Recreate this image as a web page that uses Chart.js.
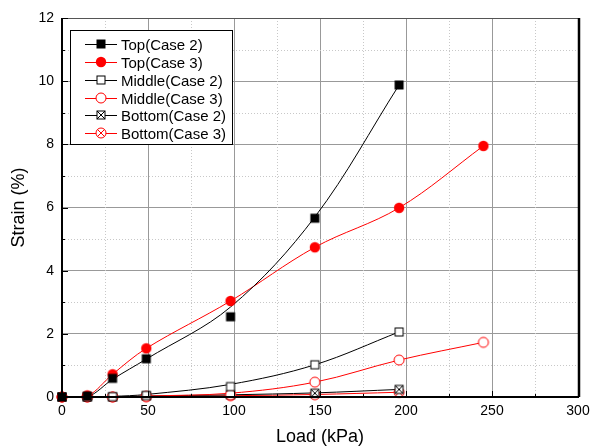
<!DOCTYPE html>
<html>
<head>
<meta charset="utf-8">
<script src="https://cdn.jsdelivr.net/npm/chart.js@4.4.1/dist/chart.umd.min.js"></script>
<style>
  html, body { margin: 0; padding: 0; background: #fff; }
  #wrap { width: 592px; height: 448px; position: relative; }
</style>
</head>
<body>
<div id="wrap"><canvas id="c"></canvas></div>
<script>
// ---- data ----
const loads = [0, 14.7, 29.4, 49, 98, 147, 196, 245];
// measured points
const topCase2 = [0, 0.03, 0.59, 1.21, 2.54, 5.66, 9.88];
const topCase3 = [0, 0.05, 0.72, 1.54, 3.04, 4.74, 5.99, 7.95];
const midCase2 = [0, 0, 0.01, 0.05, 0.33, 1.02, 2.06];
const midCase3 = [0, 0, 0, 0.02, 0.07, 0.47, 1.17, 1.73];
const botCase2 = [0, 0, 0, 0.03, 0.07, 0.12, 0.24];
const botCase3 = [0, 0, 0, 0.01, 0.04, 0.07, 0.15];
// fitted curves as they cross each load
const topCase2Fit = [0, 0, 0.56, 1.2, 2.85, 5.7, 9.88];
const topCase3Fit = [0, 0.03, 0.72, 1.54, 3.04, 4.74, 5.99, 7.95];
const midCase2Fit = [0, 0, 0.02, 0.08, 0.4, 1.02, 2.06];
const midCase3Fit = [0, 0, 0, 0.03, 0.12, 0.47, 1.17, 1.73];
const botCase2Fit = [0, 0, 0, 0.03, 0.07, 0.13, 0.24];
const botCase3Fit = [0, 0, 0, 0.01, 0.04, 0.08, 0.15];
const xTicks = [0, 50, 100, 150, 200, 250, 300];
const yTicks = [0, 2, 4, 6, 8, 10, 12];

const FONT = "'Liberation Sans', Arial, sans-serif";
const RED = "#ff0000";

// marker images
function marker(kind, color) {
  const s = 14;
  const cv = document.createElement("canvas");
  cv.width = s; cv.height = s;
  const g = cv.getContext("2d");
  g.strokeStyle = color; g.fillStyle = color; g.lineWidth = 1;
  const c = s / 2;
  if (kind === "sqFill") {
    g.fillRect(c - 4.5, c - 4.5, 9, 9);
  } else if (kind === "cirFill") {
    g.beginPath(); g.arc(c, c, 5.2, 0, Math.PI * 2); g.fill();
  } else if (kind === "sq") {
    g.fillStyle = "#fff";
    g.fillRect(c - 4, c - 4, 8, 8);
    g.strokeRect(c - 4, c - 4, 8, 8);
  } else if (kind === "cir") {
    g.fillStyle = "#fff";
    g.beginPath(); g.arc(c, c, 5, 0, Math.PI * 2); g.fill(); g.stroke();
  } else if (kind === "sqX") {
    g.fillStyle = "#fff";
    g.fillRect(c - 4, c - 4, 8, 8);
    g.strokeRect(c - 4, c - 4, 8, 8);
    g.beginPath();
    g.moveTo(c - 4, c - 4); g.lineTo(c + 4, c + 4);
    g.moveTo(c + 4, c - 4); g.lineTo(c - 4, c + 4);
    g.stroke();
  } else if (kind === "cirX") {
    g.fillStyle = "#fff";
    g.beginPath(); g.arc(c, c, 5, 0, Math.PI * 2); g.fill(); g.stroke();
    const d = 3.5;
    g.beginPath();
    g.moveTo(c - d, c - d); g.lineTo(c + d, c + d);
    g.moveTo(c + d, c - d); g.lineTo(c - d, c + d);
    g.stroke();
  }
  return cv;
}

function pts(arr) {
  return arr.map((v, i) => ({ x: loads[i], y: v }));
}

function markers(label, arr, color, img) {
  return {
    label: label,
    data: pts(arr),
    borderColor: color,
    backgroundColor: color,
    pointStyle: img,
    pointRadius: 6,
    pointHoverRadius: 6,
    showLine: false,
    clip: false,
    order: 0,
    isMarker: true
  };
}

function curve(arr, color) {
  return {
    data: pts(arr),
    borderColor: color,
    borderWidth: 1,
    pointRadius: 0,
    showLine: true,
    tension: 0.35,
    order: 1
  };
}

const datasets = [
  markers("Top(Case 2)", topCase2, "#000", marker("sqFill", "#000")),
  markers("Top(Case 3)", topCase3, RED, marker("cirFill", RED)),
  markers("Middle(Case 2)", midCase2, "#000", marker("sq", "#000")),
  markers("Middle(Case 3)", midCase3, RED, marker("cir", RED)),
  markers("Bottom(Case 2)", botCase2, "#000", marker("sqX", "#000")),
  markers("Bottom(Case 3)", botCase3, RED, marker("cirX", RED)),
  curve(topCase2Fit, "#000"),
  curve(topCase3Fit, RED),
  curve(midCase2Fit, "#000"),
  curve(midCase3Fit, RED),
  curve(botCase2Fit, "#000"),
  curve(botCase3Fit, RED)
];

// minor grid, frame, inward ticks, legend
const framePlugin = {
  id: "frame",
  beforeDatasetsDraw(chart) {
    const { ctx, chartArea: a, scales } = chart;
    ctx.save();
    ctx.strokeStyle = "#c8c8c8";
    ctx.lineWidth = 1;
    ctx.setLineDash([1, 2]);
    for (let v = 25; v < 300; v += 50) {
      const x = Math.round(scales.x.getPixelForValue(v)) + 0.5;
      ctx.beginPath(); ctx.moveTo(x, a.top); ctx.lineTo(x, a.bottom); ctx.stroke();
    }
    for (let v = 1; v < 12; v += 2) {
      const y = Math.round(scales.y.getPixelForValue(v)) + 0.5;
      ctx.beginPath(); ctx.moveTo(a.left, y); ctx.lineTo(a.right, y); ctx.stroke();
    }
    ctx.restore();
  },
  afterDraw(chart) {
    const { ctx, chartArea: a, scales } = chart;
    ctx.save();
    ctx.strokeStyle = "#555";
    ctx.lineWidth = 1;
    ctx.beginPath(); ctx.moveTo(a.left, a.top + 0.5); ctx.lineTo(a.right, a.top + 0.5); ctx.stroke();
    ctx.strokeStyle = "#000";
    ctx.lineWidth = 2;
    ctx.beginPath();
    ctx.moveTo(a.left, a.top); ctx.lineTo(a.left, a.bottom); ctx.lineTo(a.right + 1, a.bottom);
    ctx.stroke();
    ctx.lineWidth = 2.5;
    ctx.beginPath(); ctx.moveTo(a.right + 1, a.top); ctx.lineTo(a.right + 1, a.bottom); ctx.stroke();
    ctx.lineWidth = 1;
    for (let v = 0; v <= 300; v += 25) {
      const x = Math.round(scales.x.getPixelForValue(v)) + 0.5;
      const len = v % 50 === 0 ? 6 : 3;
      ctx.beginPath(); ctx.moveTo(x, a.bottom); ctx.lineTo(x, a.bottom - len); ctx.stroke();
    }
    for (let v = 0; v <= 12; v += 1) {
      const y = Math.round(scales.y.getPixelForValue(v)) + 0.5;
      const len = v % 2 === 0 ? 6 : 3;
      ctx.beginPath(); ctx.moveTo(a.left, y); ctx.lineTo(a.left + len, y); ctx.stroke();
    }
    // legend box
    const lx = 70, ly = 30, lw = 162, lh = 114;
    ctx.fillStyle = "#fff";
    ctx.fillRect(lx, ly, lw, lh);
    ctx.strokeStyle = "#000";
    ctx.lineWidth = 1;
    ctx.strokeRect(lx + 0.5, ly + 0.5, lw, lh);
    ctx.font = "15px " + FONT;
    ctx.textBaseline = "middle";
    ctx.textAlign = "left";
    chart.data.datasets.filter(d => d.isMarker).forEach((d, i) => {
      const y = Math.round(44 + i * 17.85) + 0.5;
      ctx.strokeStyle = d.borderColor;
      ctx.beginPath(); ctx.moveTo(85, y); ctx.lineTo(117, y); ctx.stroke();
      const img = d.pointStyle;
      ctx.drawImage(img, 101 - img.width / 2, y - 0.5 - img.height / 2);
      ctx.fillStyle = "#000";
      ctx.fillText(d.label, 121, y + 1);
    });
    ctx.restore();
  }
};

new Chart(document.getElementById("c"), {
  type: "scatter",
  data: { datasets: datasets },
  options: {
    responsive: true,
    maintainAspectRatio: false,
    animation: false,
    events: [],
    layout: { padding: { top: 18, right: 14, left: 8, bottom: 0 } },
    plugins: { legend: { display: false }, tooltip: { enabled: false } },
    scales: {
      x: {
        type: "linear",
        min: 0, max: 300,
        afterBuildTicks: (s) => { s.ticks = xTicks.map(v => ({ value: v })); },
        afterFit: (s) => { s.height = 51; s.paddingLeft = 0; s.paddingRight = 0; },
        ticks: { color: "#000", font: { family: FONT, size: 14 }, padding: 6, maxRotation: 0 },
        grid: { color: "#999", lineWidth: 1, drawTicks: false },
        border: { display: false },
        title: { display: true, text: "Load (kPa)", color: "#000", font: { family: FONT, size: 18 }, padding: { top: 0, bottom: 0 } }
      },
      y: {
        type: "linear",
        min: 0, max: 12,
        afterBuildTicks: (s) => { s.ticks = yTicks.map(v => ({ value: v })); },
        afterFit: (s) => { s.width = 54; s.paddingTop = 0; s.paddingBottom = 0; },
        ticks: { color: "#000", font: { family: FONT, size: 14 }, padding: 8 },
        grid: { color: "#999", lineWidth: 1, drawTicks: false },
        border: { display: false },
        title: { display: true, text: "Strain (%)", color: "#000", font: { family: FONT, size: 18 }, padding: { top: 0, bottom: 0 } }
      }
    }
  },
  plugins: [framePlugin]
});
</script>
</body>
</html>
